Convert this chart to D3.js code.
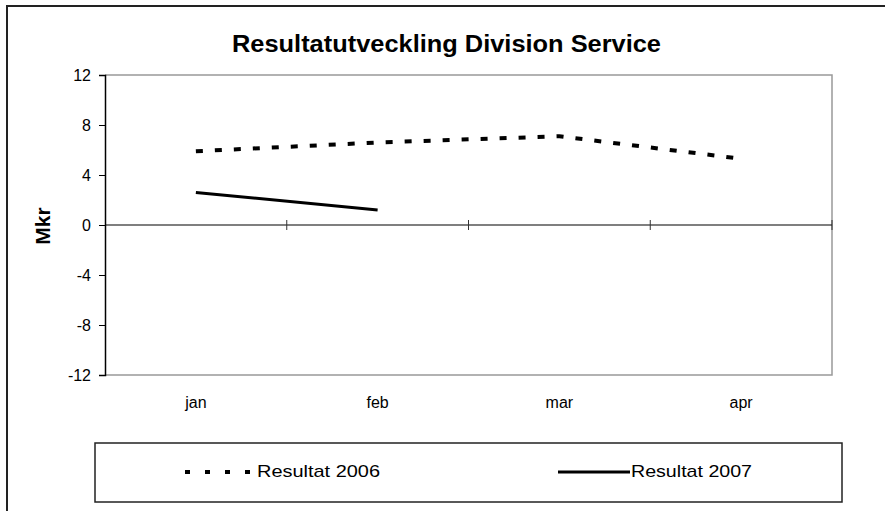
<!DOCTYPE html>
<html><head><meta charset="utf-8">
<script src="https://cdn.jsdelivr.net/npm/d3@7"></script>
<style>body{margin:0;background:#fff}svg{display:block}text{font-family:"Liberation Sans",Arial,sans-serif}</style>
</head><body>
<script>
const months = ["jan","feb","mar","apr"];
const res2006 = [5.9, 6.6, 7.1, 5.3];
const res2007 = [2.6, 1.2];
const yTicks = [-12,-8,-4,0,4,8,12];
const seriesNames = ["Resultat 2006","Resultat 2007"];
const chartTitle = "Resultatutveckling Division Service";
const yTitle = "Mkr";

const W=885,H=511;
const svg=d3.select("body").append("svg").attr("width",W).attr("height",H);
svg.append("rect").attr("x",7).attr("y",6).attr("width",W).attr("height",H).attr("fill","#fff").attr("stroke","#222").attr("stroke-width",2);

const L=105,R=832,T=75,B=375;
const x=d3.scaleBand().domain(months).range([L,R]);
const y=d3.scaleLinear().domain([-12,12]).range([B,T]);

svg.append("text").attr("x",232).attr("y",52).attr("font-size",23).attr("font-weight","bold")
  .attr("textLength",429).attr("lengthAdjust","spacingAndGlyphs").text(chartTitle);

// plot frame (gray)
svg.append("path").attr("d",`M${L},${T}H${R}V${B}H${L}`).attr("fill","none").attr("stroke","#999").attr("stroke-width",1.5);

// y axis
const ya=svg.append("g").attr("transform",`translate(${L},0)`).call(d3.axisLeft(y).tickValues(yTicks).tickSize(6).tickPadding(8).tickFormat(d=>String(d)));
ya.attr("font-size",16).attr("font-family","Liberation Sans, Arial, sans-serif");
ya.select(".domain").attr("stroke","#000").attr("stroke-width",1.5);
ya.selectAll(".tick line").attr("stroke","#000");
ya.selectAll("text").attr("fill","#000");

// x axis at zero
const y0=y(0);
svg.append("line").attr("x1",L).attr("x2",R).attr("y1",y0).attr("y2",y0).attr("stroke","#000").attr("stroke-width",1.2);
const bounds=months.map(m=>x(m)+x.bandwidth());
svg.selectAll(".xt").data(bounds).enter().append("line").attr("x1",d=>d).attr("x2",d=>d).attr("y1",y0-5).attr("y2",y0+5).attr("stroke","#333").attr("stroke-width",1);
svg.selectAll(".xl").data(months).enter().append("text").attr("x",d=>x(d)+x.bandwidth()/2).attr("y",408).attr("text-anchor","middle").attr("font-size",16).text(d=>d);

svg.append("text").attr("transform","translate(50,226) rotate(-90)").attr("text-anchor","middle").attr("font-size",21).attr("font-weight","bold").text(yTitle);

const line=d3.line().x((d,i)=>x(months[i])+x.bandwidth()/2).y(d=>y(d));
svg.append("path").attr("d",line(res2006)).attr("fill","none").attr("stroke","#000").attr("stroke-width",4).attr("stroke-dasharray","7,12");
svg.append("path").attr("d",line(res2007)).attr("fill","none").attr("stroke","#000").attr("stroke-width",3);

// legend
svg.append("rect").attr("x",95).attr("y",443).attr("width",747).attr("height",59).attr("fill","#fff").attr("stroke","#222").attr("stroke-width",1.5);
const ly=472;
svg.append("line").attr("x1",185).attr("x2",251).attr("y1",ly).attr("y2",ly).attr("stroke","#000").attr("stroke-width",4).attr("stroke-dasharray","5,15");
svg.append("text").attr("x",257).attr("y",477).attr("font-size",17).attr("textLength",123).attr("lengthAdjust","spacingAndGlyphs").text(seriesNames[0]);
svg.append("line").attr("x1",558).attr("x2",630).attr("y1",ly).attr("y2",ly).attr("stroke","#000").attr("stroke-width",3);
svg.append("text").attr("x",631).attr("y",477).attr("font-size",17).attr("textLength",121).attr("lengthAdjust","spacingAndGlyphs").text(seriesNames[1]);
</script>
</body></html>
